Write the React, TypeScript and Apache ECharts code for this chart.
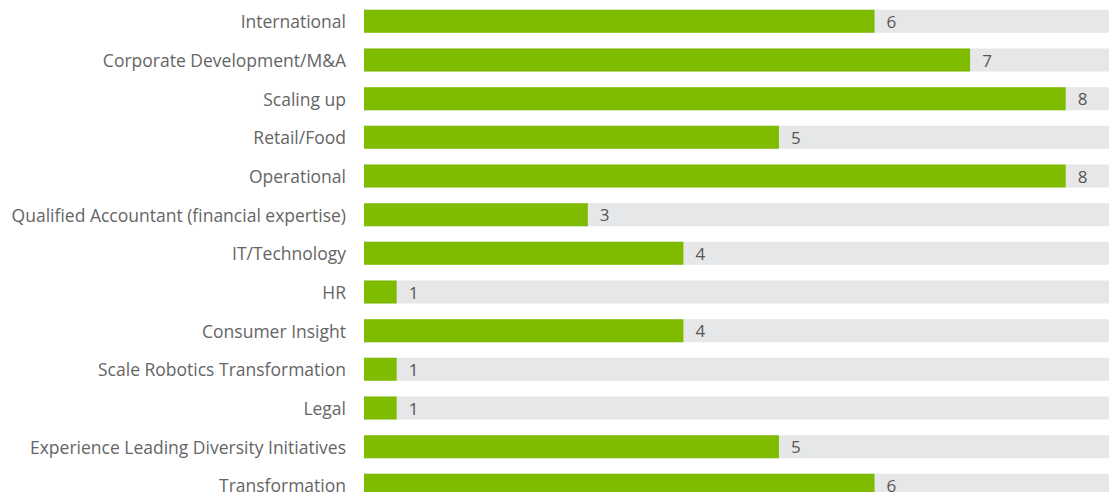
import React, { useEffect, useRef } from "react";
import * as echarts from "echarts";

const categories = [
  "International",
  "Corporate Development/M&A",
  "Scaling up",
  "Retail/Food",
  "Operational",
  "Qualified Accountant (financial expertise)",
  "IT/Technology",
  "HR",
  "Consumer Insight",
  "Scale Robotics Transformation",
  "Legal",
  "Experience Leading Diversity Initiatives",
  "Transformation",
];
const values = [6, 7, 8, 5, 8, 3, 4, 1, 4, 1, 1, 5, 6];

export default function App() {
  const ref = useRef<HTMLDivElement>(null);
  useEffect(() => {
    if (!ref.current) return;
    document.body.style.overflow = "hidden";
    const chart = echarts.init(ref.current, undefined, { renderer: "svg" });
    chart.setOption({
      animation: false,
      textStyle: { fontFamily: "Open Sans" },
      grid: { left: 364, right: 0, top: 2, bottom: 5.3 },
      xAxis: {
        type: "value",
        min: 0.658,
        max: 8.453,
        show: false,
      },
      yAxis: {
        type: "category",
        data: categories,
        inverse: true,
        axisLine: { show: false },
        axisTick: { show: false },
        axisLabel: {
          margin: 18,
          color: "#656565",
          fontSize: 17.5,
          fontFamily: "Open Sans",
        },
      },
      series: [
        {
          type: "bar",
          data: values,
          barWidth: 23,
          itemStyle: { color: "#7fbc00" },
          showBackground: true,
          backgroundStyle: { color: "#e6e7e8" },
          label: {
            show: true,
            position: "right",
            distance: 12,
            color: "#555555",
            fontSize: 17,
            fontFamily: "Open Sans",
          },
        },
      ],
    });
    return () => chart.dispose();
  }, []);
  return (
    <div
      ref={ref}
      style={{ position: "absolute", left: 0, top: 0, width: 1109, height: 510 }}
    />
  );
}
